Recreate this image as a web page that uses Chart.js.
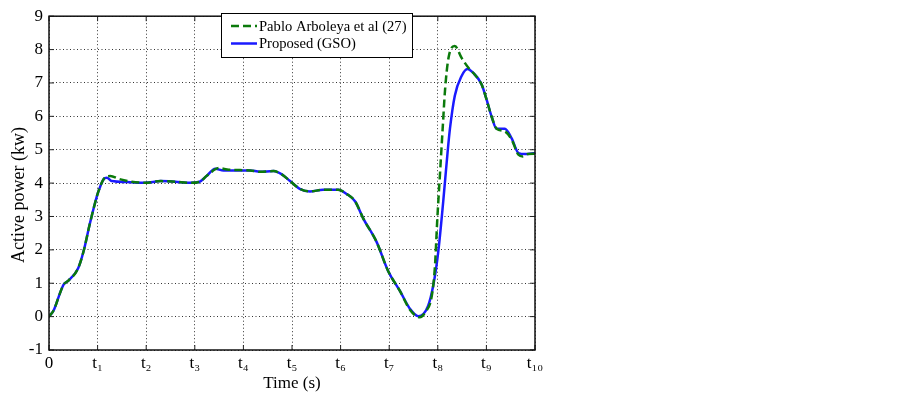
<!DOCTYPE html>
<html>
<head>
<meta charset="utf-8">
<script src="https://cdn.jsdelivr.net/npm/chart.js@4.4.1/dist/chart.umd.min.js"></script>
<style>
  html, body { margin: 0; padding: 0; background: #fff; }
  #grafico { display: block; }
</style>
</head>
<body>
<canvas id="grafico" width="903" height="394"></canvas>
<script>
// eixo x: instantes t0..t10
const rotulosTempo = ["0", "t\u2081", "t\u2082", "t\u2083", "t\u2084", "t\u2085", "t\u2086", "t\u2087", "t\u2088", "t\u2089", "t\u2081\u2080"];
const tituloY = "Active power (kw)";
const tituloX = "Time (s)";

// Proposed (GSO)
const tempoGSO = [0, 0.1, 0.23, 0.3, 0.4, 0.6, 0.71, 0.84, 0.95, 1.01, 1.12, 1.19, 1.29, 1.6, 1.98, 2.3, 2.6, 2.9, 3.1, 3.24, 3.42, 3.59, 4.14, 4.34, 4.62, 4.79, 4.96, 5.16, 5.37, 5.64, 5.95, 6.13, 6.3, 6.47, 6.74, 6.98, 7.22, 7.43, 7.6, 7.8, 7.91, 8.01, 8.11, 8.2, 8.25, 8.35, 8.49, 8.61, 8.73, 8.9, 9.0, 9.11, 9.21, 9.38, 9.52, 9.66, 9.79, 10];
const potenciaGSO = [0, 0.2, 0.72, 0.96, 1.08, 1.45, 1.95, 2.78, 3.42, 3.72, 4.11, 4.16, 4.06, 4.03, 4.01, 4.06, 4.04, 4.01, 4.04, 4.21, 4.43, 4.38, 4.38, 4.34, 4.36, 4.26, 4.06, 3.83, 3.75, 3.8, 3.8, 3.67, 3.45, 2.93, 2.24, 1.36, 0.77, 0.23, 0.01, 0.32, 0.96, 1.95, 3.42, 4.9, 5.63, 6.62, 7.21, 7.42, 7.3, 6.96, 6.52, 5.98, 5.63, 5.63, 5.34, 4.9, 4.87, 4.9];

// Pablo Arboleya et al (27)
const tempoArboleya = [0, 0.1, 0.23, 0.3, 0.4, 0.6, 0.71, 0.84, 0.95, 1.01, 1.12, 1.26, 1.45, 1.7, 1.98, 2.3, 2.6, 2.9, 3.1, 3.24, 3.5, 3.7, 4.14, 4.34, 4.62, 4.79, 4.96, 5.16, 5.37, 5.64, 5.95, 6.13, 6.3, 6.47, 6.74, 6.98, 7.22, 7.43, 7.63, 7.75, 7.87, 7.94, 7.99, 8.05, 8.1, 8.15, 8.22, 8.35, 8.49, 8.66, 8.75, 8.9, 9.0, 9.11, 9.21, 9.38, 9.52, 9.66, 9.75, 9.85, 10];
const potenciaArboleya = [0, 0.2, 0.72, 0.96, 1.08, 1.45, 1.95, 2.78, 3.42, 3.72, 4.11, 4.21, 4.12, 4.04, 4.01, 4.06, 4.04, 4.01, 4.04, 4.21, 4.45, 4.4, 4.38, 4.34, 4.36, 4.26, 4.06, 3.83, 3.75, 3.8, 3.8, 3.67, 3.45, 2.93, 2.24, 1.36, 0.77, 0.2, -0.02, 0.15, 0.57, 1.48, 2.93, 4.4, 5.63, 6.81, 7.75, 8.11, 7.75, 7.4, 7.27, 6.96, 6.52, 5.98, 5.63, 5.55, 5.3, 4.85, 4.8, 4.87, 4.88];

const fonte = "'Liberation Serif', 'Times New Roman', serif";

function pontos(xs, ys) {
  let lista = [];
  for (let i = 0; i < xs.length; i++) {
    lista.push({ x: xs[i], y: ys[i] });
  }
  return lista;
}

// moldura + marcas internas (estilo matlab) + titulo do eixo y
const moldura = {
  id: "moldura",
  afterDatasetsDraw(chart) {
    const ctx = chart.ctx;
    const a = chart.chartArea;
    const sx = chart.scales.x;
    const sy = chart.scales.y;
    ctx.save();
    ctx.strokeStyle = "#222";
    ctx.lineWidth = 1;
    ctx.beginPath();
    for (let v = 0; v <= 10; v++) {
      const px = sx.getPixelForValue(v);
      ctx.moveTo(px, a.bottom); ctx.lineTo(px, a.bottom - 5);
      ctx.moveTo(px, a.top); ctx.lineTo(px, a.top + 5);
    }
    for (let v = -1; v <= 9; v++) {
      const py = sy.getPixelForValue(v);
      ctx.moveTo(a.left, py); ctx.lineTo(a.left + 5, py);
      ctx.moveTo(a.right, py); ctx.lineTo(a.right - 5, py);
    }
    ctx.stroke();
    ctx.lineWidth = 1.5;
    ctx.strokeStyle = "#111";
    ctx.strokeRect(a.left, a.top, a.right - a.left, a.bottom - a.top);

    // titulo y um pouco abaixo do centro, como no original
    ctx.translate(19, 195);
    ctx.rotate(-Math.PI / 2);
    ctx.fillStyle = "#000";
    ctx.font = "18px " + fonte;
    ctx.textAlign = "center";
    ctx.textBaseline = "middle";
    ctx.fillText(tituloY, 0, 0);
    ctx.restore();
  }
};

// legenda dentro da area do grafico
const legendaCaixa = {
  id: "legendaCaixa",
  afterDraw(chart) {
    const ctx = chart.ctx;
    const x0 = 221, y0 = 13, w = 191, h = 44;
    ctx.save();
    ctx.fillStyle = "#fff";
    ctx.fillRect(x0, y0, w, h);
    ctx.strokeStyle = "#000";
    ctx.lineWidth = 1;
    ctx.strokeRect(x0 + 0.5, y0 + 0.5, w, h);
    const linhas = [26, 43.5];
    chart.data.datasets.forEach(function (ds, i) {
      ctx.beginPath();
      ctx.strokeStyle = ds.borderColor;
      ctx.lineWidth = ds.borderWidth;
      ctx.setLineDash(ds.borderDash || []);
      ctx.moveTo(231, linhas[i]);
      ctx.lineTo(257, linhas[i]);
      ctx.stroke();
      ctx.setLineDash([]);
      ctx.fillStyle = "#000";
      ctx.font = "14.6px " + fonte;
      ctx.textBaseline = "middle";
      ctx.fillText(ds.label, 259, linhas[i] + 1);
    });
    ctx.restore();
  }
};

const dados = {
  datasets: [
    {
      label: "Pablo Arboleya et al (27)",
      data: pontos(tempoArboleya, potenciaArboleya),
      borderColor: "#0b7a0b",
      borderWidth: 2.5,
      borderDash: [8, 4],
      pointRadius: 0,
      cubicInterpolationMode: "monotone",
      fill: false,
    },
    {
      label: "Proposed (GSO)",
      data: pontos(tempoGSO, potenciaGSO),
      borderColor: "#1a1aff",
      borderWidth: 2.5,
      pointRadius: 0,
      cubicInterpolationMode: "monotone",
      fill: false,
    },
  ],
};

const config = {
  type: "line",
  data: dados,
  options: {
    responsive: false,
    animation: false,
    devicePixelRatio: 1,
    layout: { padding: { left: 0, top: 10, right: 368, bottom: 0 } },
    plugins: {
      legend: { display: false },
      tooltip: { enabled: false },
    },
    scales: {
      x: {
        type: "linear",
        min: 0,
        max: 10,
        afterFit: function (s) { s.height = 44; },
        ticks: {
          stepSize: 1,
          autoSkip: false,
          maxRotation: 0,
          color: "#000",
          padding: 3,
          font: { family: fonte, size: 17 },
          callback: function (v) { return rotulosTempo[v]; },
        },
        grid: {
          color: "#333",
          lineWidth: 1,
          drawTicks: false,
          tickLength: 0,
        },
        border: { display: true, width: 0, dash: [1, 2.5] },
        title: {
          display: true,
          text: tituloX,
          color: "#000",
          font: { family: fonte, size: 17 },
          padding: { top: 0, bottom: 0 },
        },
      },
      y: {
        min: -1,
        max: 9,
        afterFit: function (s) { s.width = 49; },
        ticks: {
          stepSize: 1,
          color: "#000",
          padding: 6,
          font: { family: fonte, size: 17 },
        },
        grid: {
          color: "#333",
          lineWidth: 1,
          drawTicks: false,
          tickLength: 0,
        },
        border: { display: true, width: 0, dash: [1, 2.5] },
        title: { display: false },
      },
    },
  },
  plugins: [moldura, legendaCaixa],
};

let myChart = new Chart(document.getElementById("grafico"), config);
</script>
</body>
</html>
